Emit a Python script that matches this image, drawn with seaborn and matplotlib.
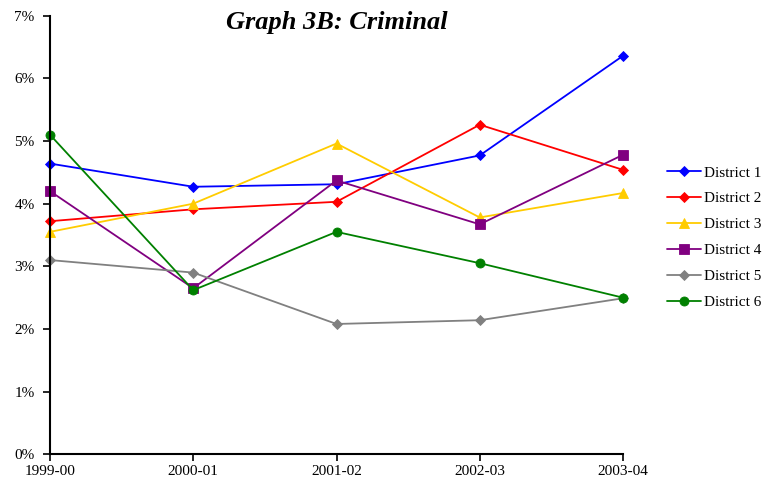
import matplotlib
matplotlib.use("Agg")
import matplotlib.pyplot as plt
import seaborn as sns
import pandas as pd

# Share of cases by district and fiscal year (percent)
years = ["1999-00", "2000-01", "2001-02", "2002-03", "2003-04"]
district_1 = [4.64, 4.27, 4.31, 4.77, 6.36]
district_2 = [3.72, 3.91, 4.03, 5.26, 4.54]
district_3 = [3.55, 4.00, 4.96, 3.78, 4.17]
district_4 = [4.20, 2.65, 4.37, 3.67, 4.78]
district_5 = [3.10, 2.90, 2.08, 2.14, 2.49]
district_6 = [5.10, 2.62, 3.55, 3.05, 2.50]
districts = ["District 1", "District 2", "District 3",
             "District 4", "District 5", "District 6"]
series = [district_1, district_2, district_3, district_4, district_5, district_6]

colors = ["#0000FF", "#FF0000", "#FFCC00", "#800080", "#808080", "#008000"]
markers = ["D", "D", "^", "s", "D", "o"]
sizes = [5.5, 5.5, 7.5, 6.5, 5.5, 6.5]

rows = []
for name, vals in zip(districts, series):
    for yr, v in zip(years, vals):
        rows.append({"Year": yr, "Share": v, "District": name})
df = pd.DataFrame(rows)

sns.set_style("ticks")
plt.rcParams["font.family"] = ["Liberation Serif", "DejaVu Serif"]
plt.rcParams["text.color"] = "black"

fig = plt.figure(figsize=(7.66, 4.83), dpi=100)
ax = fig.add_axes([50 / 766, 1 - 454.3 / 483, (623 - 50) / 766, (454.3 - 15.7) / 483])

for name, c, m, s in zip(districts, colors, markers, sizes):
    sub = df[df["District"] == name]
    sns.lineplot(data=sub, x="Year", y="Share", ax=ax, color=c, marker=m,
                 markersize=s, markeredgecolor=c, markeredgewidth=0.6,
                 linewidth=1.3, label=name, sort=False)

for line in ax.lines:
    line.set_clip_on(False)

ax.set_xlim(0, 4)
ax.set_ylim(0, 7)
ax.set_yticks(range(0, 8))
ax.set_yticklabels([f"{i}%" for i in range(0, 8)])
ax.set_xticks(range(len(years)))
ax.set_xticklabels(years)
ax.set_xlabel("")
ax.set_ylabel("")
ax.tick_params(axis="both", labelsize=11, direction="out", length=5,
               width=1.2, colors="black", labelcolor="black")
ax.tick_params(axis="x", pad=2.5)
ax.tick_params(axis="y", pad=6)
for side in ["top", "right"]:
    ax.spines[side].set_visible(False)
for side in ["left", "bottom"]:
    ax.spines[side].set_linewidth(1.5)
    ax.spines[side].set_color("black")
ax.grid(False)

ax.text(0.5, 1 - (23 - 15.7) / (454.3 - 15.7), "Graph 3B: Criminal",
        transform=ax.transAxes, ha="center", va="center", color="black",
        fontsize=19, fontweight="bold", fontstyle="italic")

leg = ax.legend(loc="center left", bbox_to_anchor=(667 / 766, 1 - 237.5 / 483),
                bbox_transform=fig.transFigure, frameon=False,
                fontsize=11, handlelength=2.2, labelspacing=0.8,
                handletextpad=0.2, borderaxespad=0, borderpad=0)
for t in leg.get_texts():
    t.set_color("black")

fig.savefig("out.png", dpi=100)
